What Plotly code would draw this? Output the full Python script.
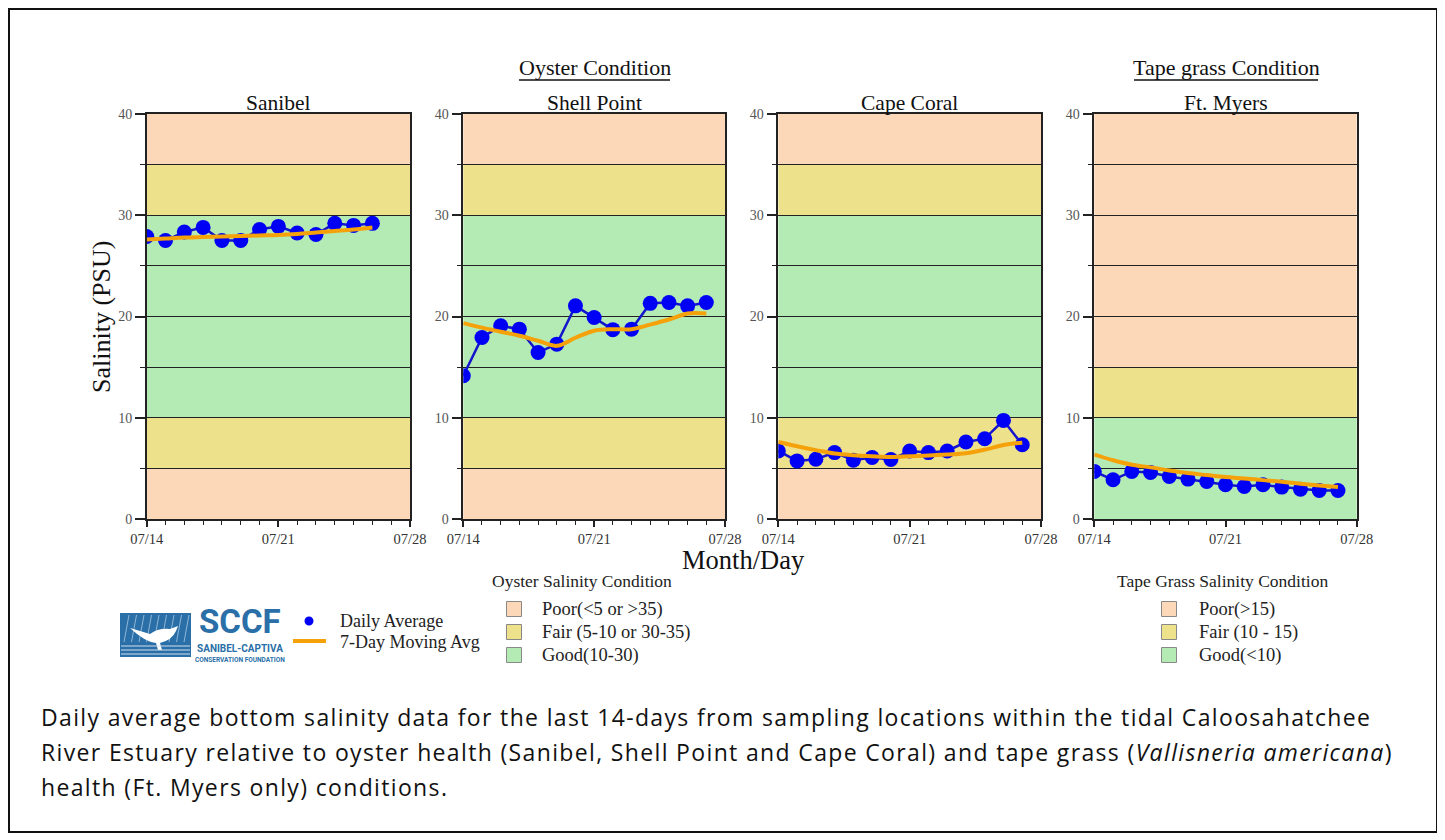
import plotly.graph_objects as go

# page body adds an 8px margin; the figure is sized/offset to compensate
OFF = 8
W, H = 1445 - OFF, 840 - OFF

dates = ["2023-07-14", "2023-07-15", "2023-07-16", "2023-07-17", "2023-07-18",
         "2023-07-19", "2023-07-20", "2023-07-21", "2023-07-22", "2023-07-23",
         "2023-07-24", "2023-07-25", "2023-07-26", "2023-07-27"]

stations = ["Sanibel", "Shell Point", "Cape Coral", "Ft. Myers"]

sanibel_daily = [27.9, 27.5, 28.35, 28.8, 27.5, 27.5, 28.6, 28.9, 28.25, 28.1, 29.2, 29.0, 29.2]
sanibel_ma = [27.6, 27.7, 27.8, 27.85, 27.9, 27.95, 28.0, 28.05, 28.15, 28.3, 28.45, 28.6, 28.8]

shell_daily = [14.15, 17.93, 19.08, 18.75, 16.45, 17.27, 21.05, 19.9, 18.7, 18.75, 21.3, 21.38, 21.05, 21.38]
shell_ma = [19.35, 18.9, 18.5, 18.1, 17.6, 17.1, 17.9, 18.6, 18.75, 18.75, 19.2, 19.7, 20.3, 20.3]

cape_daily = [6.72, 5.74, 5.9, 6.56, 5.8, 6.07, 5.87, 6.72, 6.56, 6.72, 7.6, 7.93, 9.74, 7.34]
cape_ma = [7.6, 7.18, 6.8, 6.46, 6.3, 6.2, 6.13, 6.2, 6.26, 6.36, 6.5, 6.85, 7.3, 7.54]

ftmyers_daily = [4.7, 3.87, 4.7, 4.6, 4.2, 3.94, 3.71, 3.38, 3.21, 3.38, 3.15, 2.95, 2.81, 2.81]
ftmyers_ma = [6.36, 5.8, 5.36, 5.1, 4.8, 4.54, 4.34, 4.14, 4.0, 3.84, 3.68, 3.48, 3.31, 3.15]

daily_series = [sanibel_daily, shell_daily, cape_daily, ftmyers_daily]
ma_series = [sanibel_ma, shell_ma, cape_ma, ftmyers_ma]

# salinity condition bands (low, high, condition)
oyster_bands = [(0, 5, "poor"), (5, 10, "fair"), (10, 30, "good"), (30, 35, "fair"), (35, 40, "poor")]
tape_bands = [(0, 10, "good"), (10, 15, "fair"), (15, 40, "poor")]
panel_bands = [oyster_bands, oyster_bands, oyster_bands, tape_bands]

oyster_legend = ["Poor(<5 or >35)", "Fair (5-10 or 30-35)", "Good(10-30)"]
tape_legend = ["Poor(>15)", "Fair (10 - 15)", "Good(<10)"]

x_ticks = ["2023-07-14", "2023-07-21", "2023-07-28"]
x_ticktext = ["07/14", "07/21", "07/28"]

band_colors = {"poor": "#FDD8B8", "fair": "#EEE18B", "good": "#B4EBB4"}
BLUE = "#0000F5"
BLUE_LINE = "#1515CC"
ORANGE = "#F5A20A"
SERIF = "Liberation Serif"


def px(x):
    return (x - OFF) / W


def py(y):
    return 1 - (y - OFF) / H


annotations = []
shapes = []


def ann(text, x, y, size, family=SERIF, color="#111", xanchor="center", yanchor="middle", **kw):
    annotations.append(dict(text=text, x=px(x), y=py(y), xref="paper", yref="paper",
                            xanchor=xanchor, yanchor=yanchor, showarrow=False,
                            font=dict(family=family, size=size, color=color), **kw))


def pline(x0, y0, x1, y1, color, width):
    shapes.append(dict(type="line", xref="paper", yref="paper", x0=px(x0), x1=px(x1),
                       y0=py(y0), y1=py(y1), line=dict(color=color, width=width)))


panel_px = [(146.7, 410), (463.3, 725), (778.3, 1041), (1094.3, 1356.7)]
ydom = [py(519), py(114)]

fig = go.Figure()

for i in range(4):
    n = i + 1
    xa = "x" if n == 1 else f"x{n}"
    ya = "y" if n == 1 else f"y{n}"
    d = daily_series[i]
    m = ma_series[i]
    fig.add_trace(go.Scatter(
        x=dates[:len(d)], y=d, mode="lines+markers",
        line=dict(color=BLUE_LINE, width=2.5),
        marker=dict(color=BLUE, size=15),
        xaxis=xa, yaxis=ya, showlegend=False, hoverinfo="x+y"))
    fig.add_trace(go.Scatter(
        x=dates[:len(m)], y=m, mode="lines",
        line=dict(color=ORANGE, width=4, shape="spline"),
        xaxis=xa, yaxis=ya, showlegend=False, hoverinfo="x+y"))

    axis_x = dict(
        domain=[px(panel_px[i][0]), px(panel_px[i][1])],
        anchor=ya, type="date",
        range=["2023-07-14", "2023-07-28"],
        tickmode="array", tickvals=x_ticks, ticktext=x_ticktext,
        ticks="outside", ticklen=6, tickcolor="#222", tickwidth=1.5,
        minor=dict(ticks="outside", ticklen=4, dtick=86400000, tickcolor="#222", tickwidth=1.2,
                   tick0="2023-07-14"),
        tickfont=dict(family=SERIF, size=14.5, color="#333"),
        showline=True, mirror=True, linecolor="#222", linewidth=1.5,
        showgrid=False, zeroline=False, fixedrange=True,
    )
    axis_y = dict(
        domain=ydom, anchor=xa, range=[0, 40],
        tickmode="linear", tick0=0, dtick=10,
        ticks="outside", ticklen=10, tickcolor="#222", tickwidth=1.5,
        minor=dict(ticks="outside", ticklen=5, dtick=5, tick0=0, tickcolor="#222", tickwidth=1.2,
                   showgrid=True, gridcolor="#222", gridwidth=1.4),
        tickfont=dict(family=SERIF, size=14, color="#555"),
        showgrid=True, gridcolor="#222", gridwidth=1.4,
        showline=True, mirror=True, linecolor="#222", linewidth=1.5,
        zeroline=False, fixedrange=True,
    )
    fig.update_layout(**{("xaxis" if n == 1 else f"xaxis{n}"): axis_x,
                         ("yaxis" if n == 1 else f"yaxis{n}"): axis_y})

    for lo, hi, cond in panel_bands[i]:
        shapes.append(dict(type="rect", xref=f"{xa} domain", yref=ya,
                           x0=0, x1=1, y0=lo, y1=hi, fillcolor=band_colors[cond],
                           line=dict(width=0), layer="below"))

    ann(stations[i], (panel_px[i][0] + panel_px[i][1]) / 2, 103, 21.5)

# group titles with underlines
ann("Oyster Condition", 594.5, 68, 22)
pline(519, 80, 670, 80, "#111", 1.6)
ann("Tape grass Condition", 1226, 68, 22)
pline(1134, 80, 1318, 80, "#111", 1.6)

# axis titles
ann("Salinity (PSU)", 101, 317, 26, textangle=-90)
ann("Month/Day", 743, 560, 26.5)

# series legend
shapes.append(dict(type="circle", xref="paper", yref="paper", x0=px(304.5), x1=px(313.5),
                   y0=py(616.5), y1=py(625.5), fillcolor=BLUE, line=dict(width=0)))
pline(293, 641, 326, 641, ORANGE, 4)
ann("Daily Average", 338, 621, 18, color="#222", xanchor="left")
ann("7-Day Moving Avg", 338, 642, 18, color="#222", xanchor="left")

# condition legends
legend_cond = ["poor", "fair", "good"]
legend_rows = [609, 632, 655]
for title, labels, cx, sx, tx in [("Oyster Salinity Condition", oyster_legend, 582, 514, 540),
                                  ("Tape Grass Salinity Condition", tape_legend, 1222, 1169, 1197)]:
    ann(title, cx, 581, 17.5, color="#222")
    for lab, cond, ry in zip(labels, legend_cond, legend_rows):
        shapes.append(dict(type="rect", xref="paper", yref="paper", x0=px(sx - 7.5), x1=px(sx + 7.5),
                           y0=py(ry + 7.5), y1=py(ry - 7.5), fillcolor=band_colors[cond],
                           line=dict(color="#888", width=1)))
        ann(lab, tx, ry, 18.5, color="#222", xanchor="left")

# SCCF logo (drawn approximation)
LOGO = "#2a6fa8"
shapes.append(dict(type="rect", xref="paper", yref="paper", x0=px(120), x1=px(191),
                   y0=py(657), y1=py(613), fillcolor=LOGO, line=dict(width=0)))
for k in range(9):
    xx = 124 + k * 7.5
    pline(xx, 642, xx + 5, 615, "#8fb6d6", 1)
shapes.append(dict(type="path", xref="paper", yref="paper",
                   path=(f"M {px(130)},{py(628)} L {px(150)},{py(634)} Q {px(158)},{py(628)} {px(170)},{py(629)} "
                         f"L {px(178)},{py(626)} L {px(176)},{py(631)} Q {px(172)},{py(640)} {px(160)},{py(643)} "
                         f"L {px(162)},{py(650)} L {px(158)},{py(650)} L {px(156)},{py(643)} "
                         f"Q {px(145)},{py(642)} {px(130)},{py(628)} Z"),
                   fillcolor="white", line=dict(width=0)))
for yy in [646, 650, 654]:
    pline(121, yy, 190, yy, "#cfe0ee", 1)
ann("<b>SCCF</b>", 240, 642, 33, family="Roboto", color=LOGO, yanchor="bottom", borderpad=0)
ann("<b>SANIBEL-CAPTIVA</b>", 240, 642, 10, family="Roboto", color=LOGO, yanchor="top", borderpad=0)
ann("<b>CONSERVATION FOUNDATION</b>", 240, 654.5, 6.5, family="Roboto", color=LOGO,
    yanchor="top", borderpad=0)

# caption
caption_lines = [
    "Daily average bottom salinity data for the last 14-days from sampling locations within the tidal Caloosahatchee",
    "River Estuary relative to oyster health (Sanibel, Shell Point and Cape Coral) and tape grass (<i>Vallisneria americana</i>)",
    "health (Ft. Myers only) conditions.",
]
for line, yy in zip(caption_lines, [717, 752, 787]):
    ann(f"<span style='letter-spacing:1.35px'>{line}</span>", 39, yy, 23,
        family="Open Sans", color="#111", xanchor="left")

# outer border
shapes.append(dict(type="rect", xref="paper", yref="paper", x0=px(9), x1=px(1437),
                   y0=py(832), y1=py(9), line=dict(color="#111", width=2), fillcolor="rgba(0,0,0,0)"))

fig.update_layout(
    width=W, height=H, margin=dict(l=0, r=0, t=0, b=0, autoexpand=False),
    paper_bgcolor="white", plot_bgcolor="white",
    shapes=shapes, annotations=annotations, showlegend=False,
)

fig.write_html("out.html")
